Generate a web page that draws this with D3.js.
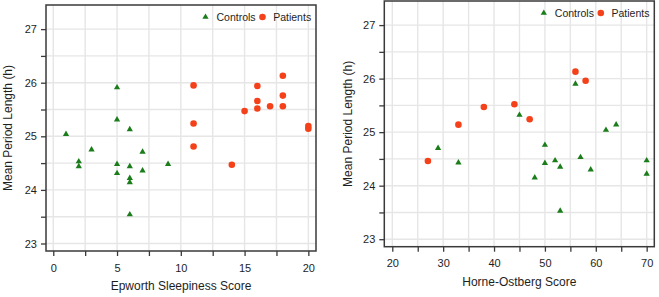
<!DOCTYPE html>
<html>
<head>
<meta charset="utf-8">
<script src="https://cdn.jsdelivr.net/npm/d3@7"></script>
<style>
  html, body { margin: 0; padding: 0; background: #fff; }
  svg { display: block; font-family: "Liberation Sans", Arial, sans-serif; }
</style>
</head>
<body>
<svg id="chart" width="659" height="297"></svg>
<script>
// ---- Data ----
const legendLabels = ["Controls", "Patients"];

const epworthControlsX = [1, 2, 2, 3, 5, 5, 5, 5, 6, 6, 6, 6, 6, 7, 7, 9];
const epworthControlsY = [25.04, 24.53, 24.44, 24.75, 25.91, 25.31, 24.48, 24.31, 25.13, 24.44, 24.22, 24.14, 23.54, 24.71, 24.36, 24.48];
const epworthPatientsX = [11, 11, 11, 14, 15, 16, 16, 16, 17, 18, 18, 18, 20, 20];
const epworthPatientsY = [25.95, 25.24, 24.81, 24.47, 25.47, 25.94, 25.66, 25.52, 25.56, 26.13, 25.76, 25.56, 25.19, 25.14];

const hoControlsX = [29, 33, 45, 48, 50, 50, 52, 53, 53, 56, 57, 59, 62, 64, 70, 70];
const hoControlsY = [24.70, 24.43, 25.32, 24.15, 24.76, 24.42, 24.47, 24.35, 23.53, 25.90, 24.53, 24.30, 25.04, 25.14, 24.47, 24.22];
const hoPatientsX = [27, 33, 38, 44, 47, 56, 58];
const hoPatientsY = [24.46, 25.14, 25.47, 25.52, 25.24, 26.13, 25.96];

const yTicks = [23, 24, 25, 26, 27];
const yMinorTicks = [23, 23.5, 24, 24.5, 25, 25.5, 26, 26.5, 27];
const epworthTicks = [0, 5, 10, 15, 20];
const epworthMinor = [0, 2.5, 5, 7.5, 10, 12.5, 15, 17.5, 20];
const hoTicks = [20, 30, 40, 50, 60, 70];
const hoMinor = [20, 25, 30, 35, 40, 45, 50, 55, 60, 65, 70];

const yTitle = "Mean Period Length (h)";

// ---- Styling ----
const GREEN = "#1a7d1a";
const RED = "#f5411a";
const GRID = "#e6e6e6";
const FRAME = "#3a3a3a";
const TEXT = "#1e1e1e";

const svg = d3.select("#chart");

function drawPanel(cfg) {
  const g = svg.append("g");
  const x = d3.scaleLinear().domain(cfg.xDomain).range([cfg.left, cfg.right]);
  const y = d3.scaleLinear().domain(cfg.yDomain).range([cfg.bottom, cfg.top]);

  // grid
  g.append("g").selectAll("line").data(cfg.xMinor).join("line")
    .attr("x1", d => x(d)).attr("x2", d => x(d))
    .attr("y1", cfg.top).attr("y2", cfg.bottom)
    .attr("stroke", GRID).attr("stroke-width", 1.4);
  g.append("g").selectAll("line").data(yMinorTicks).join("line")
    .attr("y1", d => y(d)).attr("y2", d => y(d))
    .attr("x1", cfg.left).attr("x2", cfg.right)
    .attr("stroke", GRID).attr("stroke-width", 1.4);

  // axes
  const xAxis = g.append("g").attr("transform", `translate(0,${cfg.bottom})`)
    .call(d3.axisBottom(x).tickValues(cfg.xMinor)
      .tickFormat(d => cfg.xTicks.includes(d) ? d3.format("d")(d) : "")
      .tickSize(5).tickPadding(8));
  const yAxis = g.append("g").attr("transform", `translate(${cfg.left},0)`)
    .call(d3.axisLeft(y).tickValues(yMinorTicks)
      .tickFormat(d => yTicks.includes(d) ? d3.format("d")(d) : "")
      .tickSize(5).tickPadding(4));
  [xAxis, yAxis].forEach(a => {
    a.select(".domain").remove();
    a.selectAll(".tick line").attr("stroke", FRAME).attr("stroke-width", 1.3);
    a.selectAll("text").attr("fill", TEXT).style("font-size", "11px")
      .style("font-family", "'Liberation Sans', Arial, sans-serif");
  });

  // frame
  g.append("rect")
    .attr("x", cfg.left).attr("y", cfg.top)
    .attr("width", cfg.right - cfg.left).attr("height", cfg.bottom - cfg.top)
    .attr("fill", "none").attr("stroke", FRAME).attr("stroke-width", 1.5);

  // points
  const tri = d3.symbol().type(d3.symbolTriangle).size(17)();
  g.append("g").selectAll("path").data(cfg.cx.map((v, i) => [v, cfg.cy[i]])).join("path")
    .attr("d", tri)
    .attr("transform", d => `translate(${x(d[0])},${y(d[1])})`)
    .attr("fill", GREEN);
  g.append("g").selectAll("circle").data(cfg.px.map((v, i) => [v, cfg.py[i]])).join("circle")
    .attr("cx", d => x(d[0])).attr("cy", d => y(d[1]))
    .attr("r", 3.3).attr("fill", RED);

  // legend
  const ly = cfg.top + 12;
  const lg = g.append("g");
  lg.append("path").attr("d", tri)
    .attr("transform", `translate(${cfg.right - 110.5},${ly})`).attr("fill", GREEN);
  lg.append("text").attr("x", cfg.right - 99.5).attr("y", ly + 3.8)
    .attr("fill", TEXT).style("font-size", "10.5px").text(legendLabels[0]);
  lg.append("circle").attr("cx", cfg.right - 53.5).attr("cy", ly).attr("r", 3.3).attr("fill", RED);
  lg.append("text").attr("x", cfg.right - 42.8).attr("y", ly + 3.8)
    .attr("fill", TEXT).style("font-size", "10.5px").text(legendLabels[1]);

  // titles
  g.append("text")
    .attr("x", (cfg.left + cfg.right) / 2).attr("y", cfg.xTitleY)
    .attr("text-anchor", "middle").attr("fill", TEXT).style("font-size", "12px")
    .text(cfg.xTitle);
  g.append("text")
    .attr("transform", `translate(${cfg.yTitleX},${(cfg.top + cfg.bottom) / 2}) rotate(-90)`)
    .attr("text-anchor", "middle").attr("fill", TEXT).style("font-size", "12px")
    .text(yTitle);
}

drawPanel({
  left: 46, right: 316, top: 5, bottom: 251,
  xDomain: [-0.57, 20.6], yDomain: [22.86, 27.45],
  xTicks: epworthTicks, xMinor: epworthMinor,
  cx: epworthControlsX, cy: epworthControlsY,
  px: epworthPatientsX, py: epworthPatientsY,
  xTitle: "Epworth Sleepiness Score", xTitleY: 289.5, yTitleX: 12
});

drawPanel({
  left: 384.3, right: 654.3, top: 1, bottom: 246.7,
  xDomain: [18.43, 71.5], yDomain: [22.86, 27.45],
  xTicks: hoTicks, xMinor: hoMinor,
  cx: hoControlsX, cy: hoControlsY,
  px: hoPatientsX, py: hoPatientsY,
  xTitle: "Horne-Ostberg Score", xTitleY: 285.5, yTitleX: 352
});
</script>
</body>
</html>
